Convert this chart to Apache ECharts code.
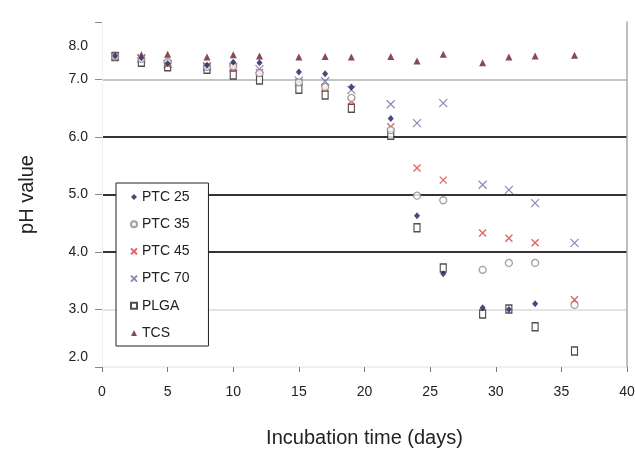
<!DOCTYPE html>
<html><head><meta charset="utf-8">
<script src="https://cdn.jsdelivr.net/npm/echarts@6/dist/echarts.min.js"></script>
<style>html,body{margin:0;padding:0;background:#fff}#c{width:635px;height:452px}</style>
</head><body><div id="c"></div>
<script>
var days = [1,3,5,8,10,12,15,17,19,22,24,26,29,31,33,36];
var ptc25 = [7.41,7.38,7.28,7.25,7.30,7.29,7.13,7.10,6.87,6.32,4.63,3.62,3.03,3.00,3.10,null];
var ptc35 = [7.40,7.36,7.30,7.22,7.23,7.11,6.95,6.87,6.68,6.12,4.98,4.90,3.69,3.81,3.81,3.08];
var ptc45 = [7.40,7.37,7.26,7.22,7.20,7.12,6.95,6.85,6.62,6.18,5.46,5.25,4.33,4.24,4.16,3.17];
var ptc70 = [7.40,7.37,7.27,7.23,7.22,7.18,6.98,6.97,6.82,6.57,6.24,6.59,5.17,5.08,4.85,4.16];
var plga  = [7.40,7.30,7.22,7.18,7.08,6.99,6.83,6.73,6.50,6.03,4.42,3.72,2.92,3.01,2.70,2.28];
var tcs   = [7.43,7.43,7.44,7.39,7.43,7.41,7.39,7.40,7.39,7.40,7.32,7.44,7.29,7.39,7.41,7.42];
var seriesNames = ['PTC 25','PTC 35','PTC 45','PTC 70','PLGA','TCS'];
var xTicks = [0,5,10,15,20,25,30,35,40];
var yTicks = [2,3,4,5,6,7,8];

function pairs(v){ return days.map(function(d,i){ return v[i]==null ? null : [d, v[i]]; }).filter(function(p){return p;}); }
var X = 'path://M0,0L10,10M10,0L0,10';
var styles = [
  {symbol:'diamond', size:[6,7], item:{color:'#1c1c5a'}},
  {symbol:'circle', size:7, item:{color:'#fff', borderColor:'#8a8a8a', borderWidth:1.3}},
  {symbol:X, size:7, item:{color:'rgba(0,0,0,0)', borderColor:'#e23a3a', borderWidth:1.4}},
  {symbol:X, size:8, item:{color:'rgba(0,0,0,0)', borderColor:'#6a6aa8', borderWidth:1.2}},
  {symbol:'rect', size:[6,8], item:{color:'#fff', borderColor:'#222', borderWidth:1.3}},
  {symbol:'triangle', size:[7,7], item:{color:'#6b1a2a'}}
];
var vals = [ptc25, ptc35, ptc45, ptc70, plga, tcs];
var series = vals.map(function(v,i){
  return {name:seriesNames[i], type:'scatter', data:pairs(v), symbol:styles[i].symbol,
    symbolSize:styles[i].size, itemStyle:styles[i].item, z: 10 - i, emphasis:{disabled:true}};
});
var chart = echarts.init(document.getElementById('c'), null, {renderer:'canvas'});
chart.setOption({
  animation:false,
  backgroundColor:'#fff',
  grid:{left:102, right:8, top:22, bottom:85, containLabel:false, outerBoundsMode:'none'},
  legend:{
    orient:'vertical', left:116, top:183,
    data: seriesNames.map(function(n,i){ return {name:n, icon: styles[i].symbol}; }),
    itemWidth:6, itemHeight:6, itemGap:13.2,
    padding:[7,19,6,14], borderColor:'#222', borderWidth:1, backgroundColor:'#fff',
    textStyle:{fontFamily:'Liberation Sans', fontSize:14, color:'#222', lineHeight:14},
    selectedMode:false, z:20
  },
  xAxis:{
    type:'value', min:xTicks[0], max:xTicks[xTicks.length-1], interval:5,
    name:'Incubation time (days)', nameLocation:'middle', nameGap:61,
    nameTextStyle:{fontFamily:'Liberation Sans', fontSize:20, color:'#222'},
    axisLine:{show:true, onZero:false, lineStyle:{color:'#eee'}},
    axisTick:{show:true, length:5, lineStyle:{color:'#777'}},
    axisLabel:{fontFamily:'Liberation Sans', fontSize:14, color:'#222', margin:18},
    splitLine:{show:false}
  },
  yAxis:[{
    type:'value', min:yTicks[0], max:yTicks[yTicks.length-1], interval:1,
    name:'pH value', nameLocation:'middle', nameGap:65, nameRotate:90,
    nameTextStyle:{fontFamily:'Liberation Sans', fontSize:20, color:'#222'},
    axisLine:{show:true, lineStyle:{color:'#f0f0f0'}},
    axisTick:{show:true, length:7, lineStyle:{color:'#888'}},
    axisLabel:{fontFamily:'Liberation Sans', fontSize:14, color:'#222', margin:14,
      formatter:function(v){
        var s = v.toFixed(1);
        if (v === yTicks[0]) return '{lo|' + s + '}';
        if (v === yTicks[yTicks.length-1]) return '{hi|' + s + '}';
        return s;
      },
      rich:{lo:{padding:[0,0,20,0], fontSize:14, fontFamily:'Liberation Sans', color:'#222'},
            hi:{padding:[48,0,0,0], fontSize:14, fontFamily:'Liberation Sans', color:'#222'}}
    },
    splitLine:{show:true, lineStyle:{width:2, color:['#f2f2f2','#e4e4e4','#333','#333','#333','#c4c4c4','rgba(0,0,0,0)']}}
  },{
    type:'value', min:yTicks[0], max:yTicks[yTicks.length-1], interval:1, position:'right',
    axisLine:{show:true, lineStyle:{color:'#aaa', width:1.5}},
    axisTick:{show:false}, axisLabel:{show:false}, splitLine:{show:false}
  }],
  series: series
});
</script></body></html>
